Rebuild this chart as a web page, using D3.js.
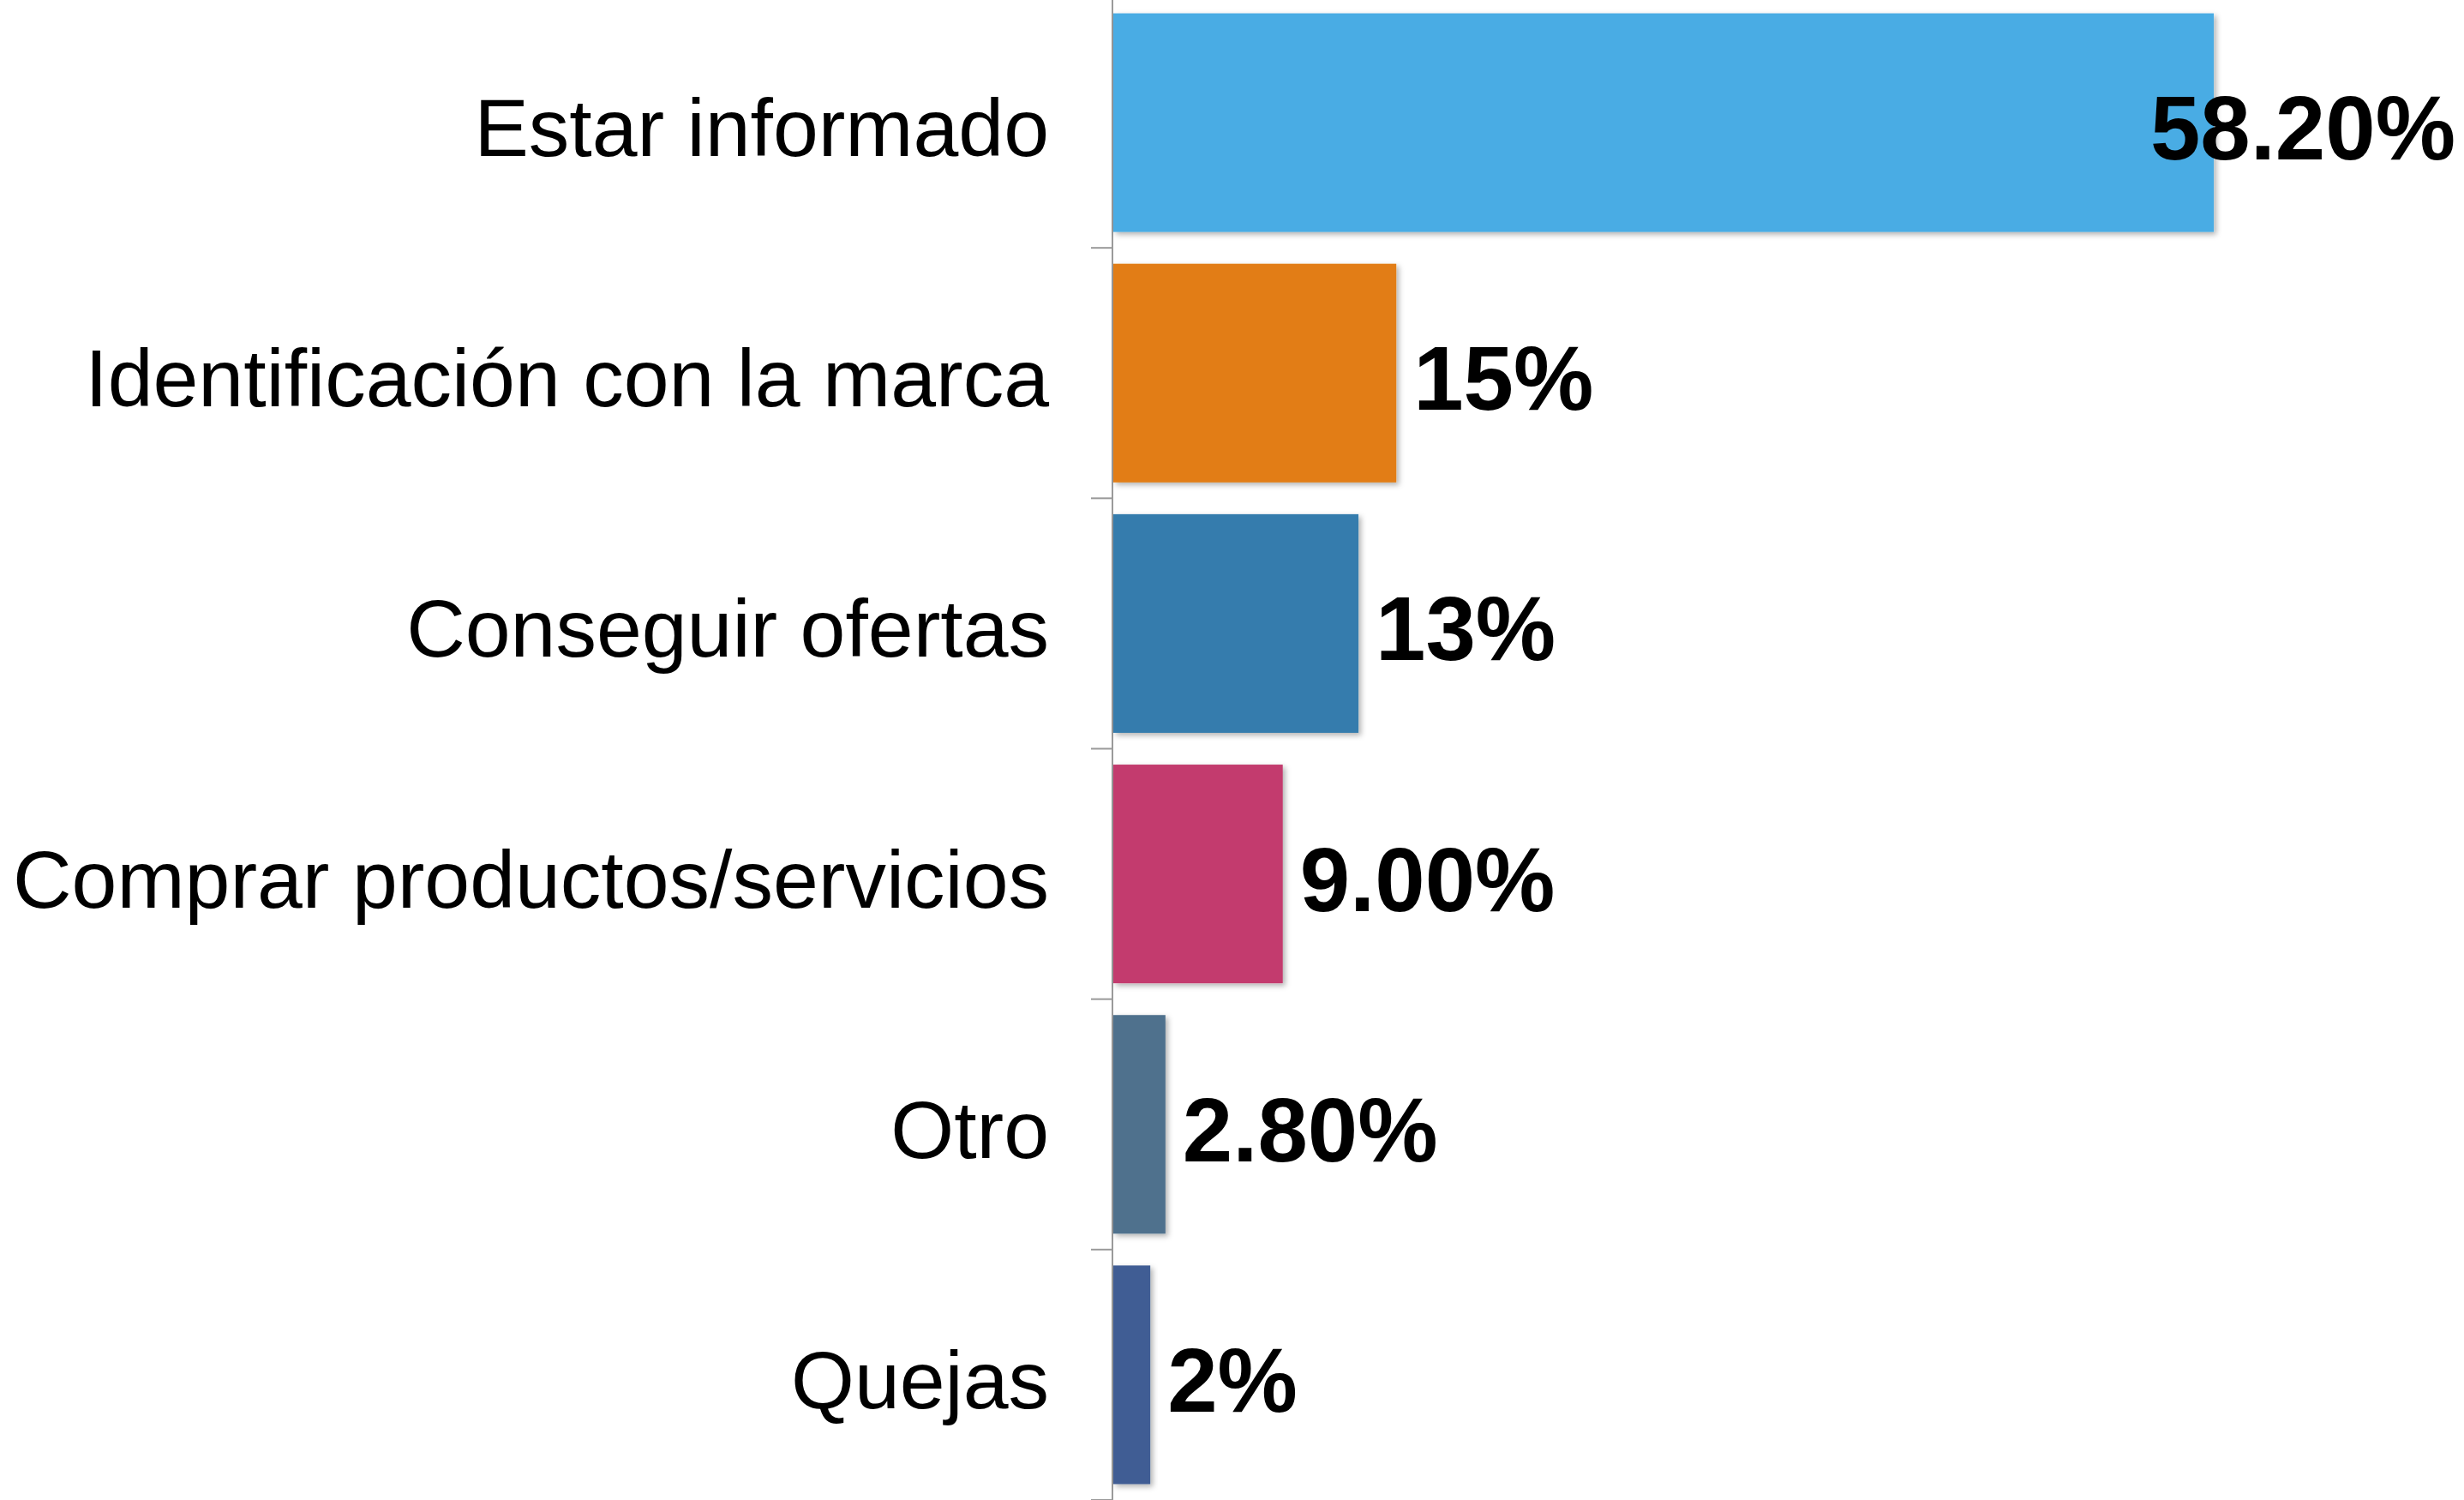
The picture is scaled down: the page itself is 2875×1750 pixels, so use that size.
<!DOCTYPE html>
<meta charset="utf-8">
<style>
  body { margin: 0; background: #fff; }
  .cat { font-family: "Liberation Sans", Arial, sans-serif; font-size: 95px; fill: #000; text-anchor: end; }
  .val { font-family: "Liberation Sans", Arial, sans-serif; font-size: 105px; font-weight: bold; fill: #000; }
  .axis line { stroke: #9a9a9a; stroke-width: 2; }
</style>
<svg class="chart" width="2875" height="1750"></svg>
<script src="https://d3js.org/d3.v7.min.js"></script>
<script>
  var categories = ["Estar informado", "Identificación con la marca", "Conseguir ofertas",
                    "Comprar productos/servicios", "Otro", "Quejas"];
  var values = [58.2, 15, 13, 9, 2.8, 2];
  var valueLabels = ["58.20%", "15%", "13%", "9.00%", "2.80%", "2%"];
  var colors = ["#4aace4", "#e27d12", "#347bad", "#c33b6e", "#4f718d", "#405d94"];

  var svg = d3.select(".chart"),
      width = +svg.attr("width"),
      height = +svg.attr("height");

  var x0 = 1298;
  var x = d3.scaleLinear().domain([0, 100]).range([x0, x0 + 2208]);
  var y = d3.scaleBand().domain(categories).range([-3, height])
      .paddingInner(0.127).paddingOuter(0.0635);

  var defs = svg.append("defs");
  defs.append("filter").attr("id", "shadow")
      .attr("x", "-10%").attr("y", "-10%").attr("width", "130%").attr("height", "130%")
    .append("feDropShadow")
      .attr("dx", 3).attr("dy", 3).attr("stdDeviation", 3)
      .attr("flood-color", "#000").attr("flood-opacity", 0.3);

  // axis line with ticks at band boundaries
  var axis = svg.append("g").attr("class", "axis");
  axis.append("line").attr("x1", x0).attr("x2", x0).attr("y1", 0).attr("y2", height);
  axis.selectAll(".tick").data(categories).enter().append("line")
      .attr("x1", x0 - 25).attr("x2", x0)
      .attr("y1", function (d) { return y(d) + y.bandwidth() + y.step() * y.paddingInner() / 2; })
      .attr("y2", function (d) { return y(d) + y.bandwidth() + y.step() * y.paddingInner() / 2; });

  svg.append("g").selectAll("rect").data(categories).enter().append("rect")
      .attr("x", x0 + 1)
      .attr("y", function (d) { return y(d); })
      .attr("width", function (d, i) { return x(values[i]) - x0 - 1; })
      .attr("height", y.bandwidth())
      .attr("fill", function (d, i) { return colors[i]; })
      .attr("filter", "url(#shadow)");

  svg.append("g").selectAll("text").data(categories).enter().append("text")
      .attr("class", "cat")
      .attr("x", 1224)
      .attr("y", function (d) { return y(d) + y.bandwidth() / 2 + 39; })
      .text(function (d) { return d; });

  svg.append("g").selectAll("text").data(categories).enter().append("text")
      .attr("class", "val")
      .attr("y", function (d) { return y(d) + y.bandwidth() / 2 + 43; })
      .text(function (d, i) { return valueLabels[i]; })
      .attr("x", function (d, i) {
        var w = this.getComputedTextLength();
        return Math.min(x(values[i]) + 20, width - 10 - w);
      });
</script>
